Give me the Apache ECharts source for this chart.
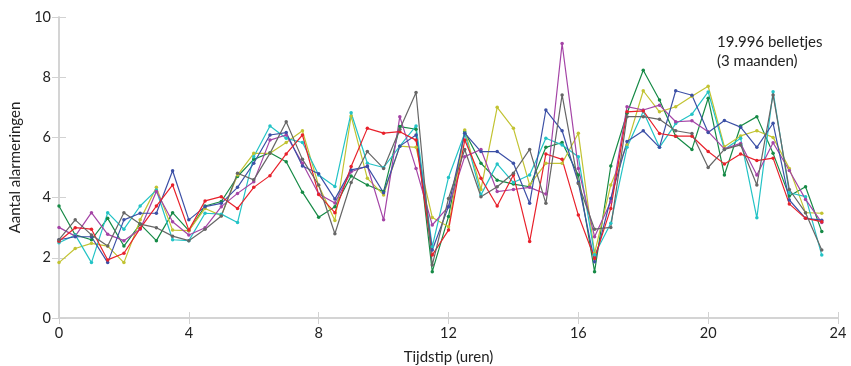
<!DOCTYPE html>
<html>
<head>
<meta charset="utf-8">
<script src="https://cdn.jsdelivr.net/npm/echarts@6/dist/echarts.min.js"></script>
<style>
  html, body { margin: 0; padding: 0; background: #fff; }
  #chart { width: 851px; height: 366px; }
</style>
</head>
<body>
<div id="chart"></div>
<script>
// tijdstippen: elk half uur
var hours = [];
for (var h = 0; h < 48; h++) hours.push(h / 2);

var red = [2.55,3.0,2.95,1.93,2.15,2.98,3.72,4.42,2.92,3.89,4.03,3.64,4.34,4.73,5.45,6.08,4.1,3.5,5.03,6.3,6.14,6.19,5.91,2.09,2.92,5.91,4.64,3.72,4.75,2.54,5.45,5.27,3.42,1.98,3.64,6.85,6.88,6.13,6.04,6.04,5.53,5.12,5.45,5.23,5.31,3.79,3.31,3.2];
var blue = [2.6,2.7,2.7,1.84,3.26,3.48,3.48,4.89,3.26,3.7,3.81,4.34,5.14,6.08,6.16,5.05,4.79,3.95,4.92,5.03,4.16,5.71,6.08,2.26,3.7,6.14,5.53,5.53,5.14,3.81,6.91,6.22,4.5,1.87,3.97,5.86,6.22,5.67,7.55,7.4,6.16,6.56,6.34,5.67,6.47,3.92,3.31,3.25];
var green = [3.72,2.76,2.6,3.31,2.39,3.12,2.57,3.5,2.9,3.72,3.87,4.7,5.27,5.49,5.19,4.18,3.35,3.7,4.72,4.42,4.2,6.36,6.27,1.54,3.37,6.19,5.14,4.58,4.45,4.36,5.67,5.83,4.75,1.54,5.05,6.8,8.23,7.24,6.04,5.6,7.3,4.75,6.38,6.69,5.47,4.05,4.36,2.87];
var magenta = [3.01,2.72,3.5,2.78,2.57,2.95,4.2,3.2,2.76,3.0,3.7,4.14,4.53,5.91,6.08,5.14,4.12,3.82,4.86,5.05,3.26,6.69,4.97,3.09,3.7,5.36,5.6,4.2,4.27,4.34,4.12,9.12,4.97,2.7,3.86,7.02,6.91,7.07,6.52,6.55,6.19,5.62,5.8,4.75,5.82,4.9,3.94,3.17];
var cyan = [2.5,2.76,1.84,3.5,2.95,3.72,4.25,2.6,2.57,3.48,3.45,3.17,5.36,6.38,5.97,5.83,4.75,4.37,6.82,5.14,5.0,5.71,6.38,2.37,4.67,6.14,4.09,5.12,4.5,4.75,5.97,5.75,5.36,2.1,3.15,5.67,6.86,5.67,6.46,6.77,7.51,5.6,5.97,3.33,7.52,4.16,4.03,2.09];
var yellow = [1.84,2.31,2.48,2.39,1.84,3.26,4.34,2.92,2.9,3.64,3.4,4.75,5.47,5.47,5.83,6.22,4.4,3.24,6.71,4.64,4.09,5.71,5.67,3.34,3.03,6.25,4.27,7.0,6.3,4.42,5.14,5.14,6.14,2.15,4.42,5.75,7.55,6.85,7.02,7.37,7.7,5.69,6.05,6.22,6.0,4.97,3.5,3.48];
var gray = [2.6,3.26,2.76,2.39,3.5,3.12,3.0,2.72,2.57,2.95,3.39,4.81,4.59,5.47,6.52,5.27,4.42,2.8,4.5,5.53,4.97,6.27,7.49,1.76,3.97,5.6,4.03,4.36,4.81,5.6,3.81,7.41,4.47,2.95,3.01,6.69,6.69,6.6,6.22,6.13,5.0,5.6,5.75,4.42,7.41,4.27,3.5,2.26];

var seriesList = [
  { data: green, color: '#168a46' },
  { data: yellow, color: '#c2c332' },
  { data: cyan, color: '#23c3c6' },
  { data: magenta, color: '#a444a6' },
  { data: blue, color: '#3c50a6' },
  { data: red, color: '#e8212b' },
  { data: gray, color: '#666666' }
];

var dom = document.getElementById('chart');
var myChart = echarts.init(dom);
var font = 'Lato, "Noto Sans", sans-serif';
var axisGrey = '#d2d2d2';

function pairs(vals) {
  return vals.map(function (v, i) { return [hours[i], v]; });
}

var option = {
  animation: false,
  grid: { left: 59, right: 13, top: 17, bottom: 48, outerBoundsMode: 'none' },
  textStyle: { fontFamily: font },
  xAxis: [{
    type: 'value', min: 0, max: 24, interval: 4,
    name: 'Tijdstip (uren)', nameLocation: 'middle', nameGap: 32,
    nameTextStyle: { color: '#222', fontSize: 15, fontFamily: font },
    axisLine: { lineStyle: { color: axisGrey, width: 1.5 } },
    axisTick: { inside: true, length: 6, lineStyle: { color: axisGrey } },
    axisLabel: { color: '#222', fontSize: 14.5, margin: 8, fontFamily: font },
    splitLine: { show: false }
  }, {
    type: 'value', min: 0, max: 24, interval: 4, position: 'top',
    axisLine: { show: true, lineStyle: { color: axisGrey, width: 1.5 } },
    axisTick: { show: true, inside: true, length: 6, lineStyle: { color: axisGrey } },
    axisLabel: { show: false },
    splitLine: { show: false }
  }],
  yAxis: [{
    type: 'value', min: 0, max: 10, interval: 2,
    name: 'Aantal alarmeringen', nameLocation: 'middle', nameGap: 36,
    nameTextStyle: { color: '#222', fontSize: 15, fontFamily: font },
    axisLine: { show: true, lineStyle: { color: axisGrey, width: 1.5 } },
    axisTick: { show: true, inside: true, length: 7, lineStyle: { color: axisGrey } },
    axisLabel: { color: '#222', fontSize: 14.5, margin: 8, fontFamily: font },
    splitLine: { show: false }
  }, {
    type: 'value', min: 0, max: 10, interval: 2, position: 'right',
    axisLine: { show: true, lineStyle: { color: axisGrey, width: 1.5 } },
    axisTick: { show: true, inside: true, length: 7, lineStyle: { color: axisGrey } },
    axisLabel: { show: false },
    splitLine: { show: false }
  }],
  graphic: [{
    type: 'text', left: 717, top: 33,
    style: {
      text: '19.996 belletjes\n(3 maanden)',
      font: '15px ' + font, fill: '#222', lineHeight: 19
    }
  }],
  series: seriesList.map(function (s) {
    return {
      type: 'line',
      data: pairs(s.data),
      symbol: 'circle', symbolSize: 3.5,
      lineStyle: { color: s.color, width: 1.2 },
      itemStyle: { color: s.color },
      emphasis: { disabled: true }
    };
  })
};

myChart.setOption(option);
</script>
</body>
</html>
